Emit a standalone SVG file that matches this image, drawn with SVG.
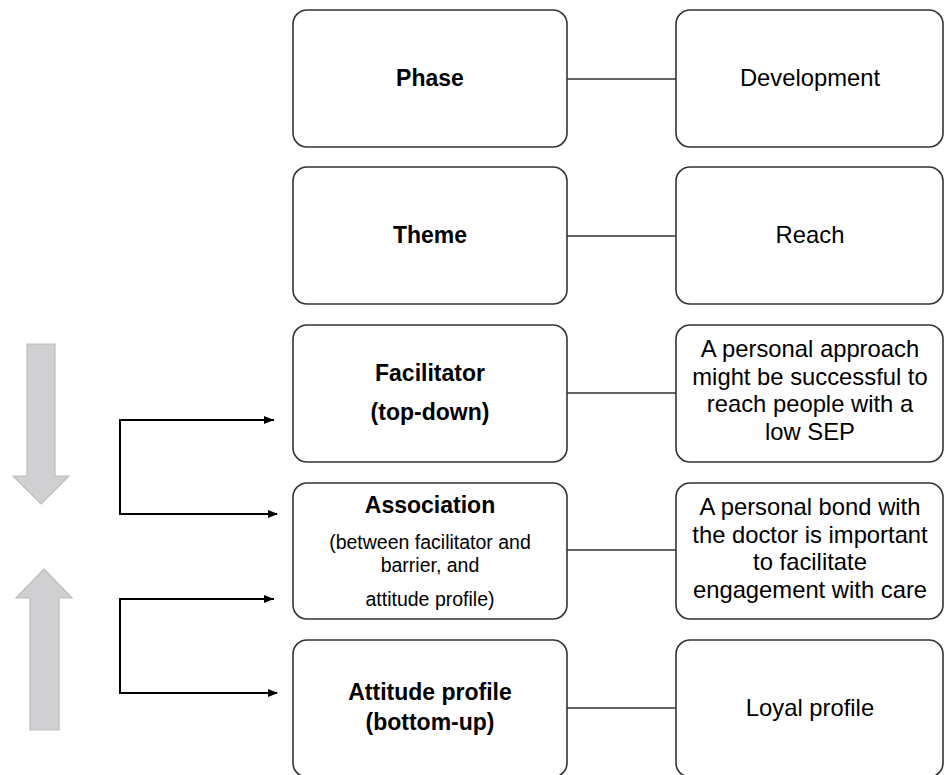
<svg xmlns="http://www.w3.org/2000/svg" width="944" height="775" viewBox="0 0 944 775">
<style>
.box{fill:#fff;stroke:#333;stroke-width:1.6}
.line{stroke:#333;stroke-width:1.6;fill:none}
.elbow{stroke:#000;stroke-width:2;fill:none}
.big{fill:#d0cfd1;stroke:#bdbdbd;stroke-width:1.2}
text{font-family:"Liberation Sans",Arial,sans-serif;fill:#000;text-anchor:middle}
.b{font-weight:bold;font-size:23px}
.r{font-size:23.8px}
.s{font-size:19.5px}
</style>
<defs>
<marker id="ah" markerWidth="10" markerHeight="8" refX="9" refY="4" orient="auto" markerUnits="userSpaceOnUse">
<path d="M0,0 L10,4 L0,8 Z" fill="#000"/>
</marker>
</defs>
<rect width="944" height="775" fill="#fff"/>
<g id="trend-arrows">
<polygon class="big" points="27,344 55,344 55,476 69,476 41,504 13,476 27,476"/>
<polygon class="big" points="44,569 72,598 59,598 59,730 30,730 30,598 16,598"/>
</g>
<g id="connectors">
<path class="line" d="M567,79 H676"/>
<path class="line" d="M567,236 H676"/>
<path class="line" d="M567,393 H676"/>
<path class="line" d="M567,550 H676"/>
<path class="line" d="M567,708 H676"/>
<path class="elbow" d="M274,420 H120 V514 H277" marker-end="url(#ah)"/>
<path class="elbow" d="M120,420 H273" marker-end="url(#ah)"/>
<path class="elbow" d="M274,599 H120 V693 H277" marker-end="url(#ah)"/>
<path class="elbow" d="M120,599 H273" marker-end="url(#ah)"/>
</g>
<g id="phase">
<rect class="box" x="293" y="10" width="274" height="137" rx="14"/>
<text class="b" x="430" y="86">Phase</text>
</g>
<g id="development">
<rect class="box" x="676" y="10" width="267" height="137" rx="14"/>
<text class="r" x="810" y="86">Development</text>
</g>
<g id="theme">
<rect class="box" x="293" y="167" width="274" height="137" rx="14"/>
<text class="b" x="430" y="243">Theme</text>
</g>
<g id="reach">
<rect class="box" x="676" y="167" width="267" height="137" rx="14"/>
<text class="r" x="810" y="243">Reach</text>
</g>
<g id="facilitator">
<rect class="box" x="293" y="325" width="274" height="137" rx="14"/>
<text class="b" x="430" y="381">Facilitator</text>
<text class="b" x="430" y="420">(top-down)</text>
</g>
<g id="facilitator-value">
<rect class="box" x="676" y="325" width="267" height="137" rx="14"/>
<text class="r" x="810" y="357">A personal approach</text>
<text class="r" x="810" y="384.7">might be successful to</text>
<text class="r" x="810" y="412.4">reach people with a</text>
<text class="r" x="810" y="440.1">low SEP</text>
</g>
<g id="association">
<rect class="box" x="293" y="483" width="274" height="136" rx="14"/>
<text class="b" x="430" y="513">Association</text>
<text class="s" x="430" y="549">(between facilitator and</text>
<text class="s" x="430" y="572">barrier, and</text>
<text class="s" x="430" y="606">attitude profile)</text>
</g>
<g id="association-value">
<rect class="box" x="676" y="483" width="267" height="136" rx="14"/>
<text class="r" x="810" y="515">A personal bond with</text>
<text class="r" x="810" y="542.7">the doctor is important</text>
<text class="r" x="810" y="570.4">to facilitate</text>
<text class="r" x="810" y="598.1">engagement with care</text>
</g>
<g id="attitude">
<rect class="box" x="293" y="640" width="274" height="137" rx="14"/>
<text class="b" x="430" y="700">Attitude profile</text>
<text class="b" x="430" y="730">(bottom-up)</text>
</g>
<g id="loyal">
<rect class="box" x="676" y="640" width="267" height="137" rx="14"/>
<text class="r" x="810" y="716">Loyal profile</text>
</g>
</svg>
